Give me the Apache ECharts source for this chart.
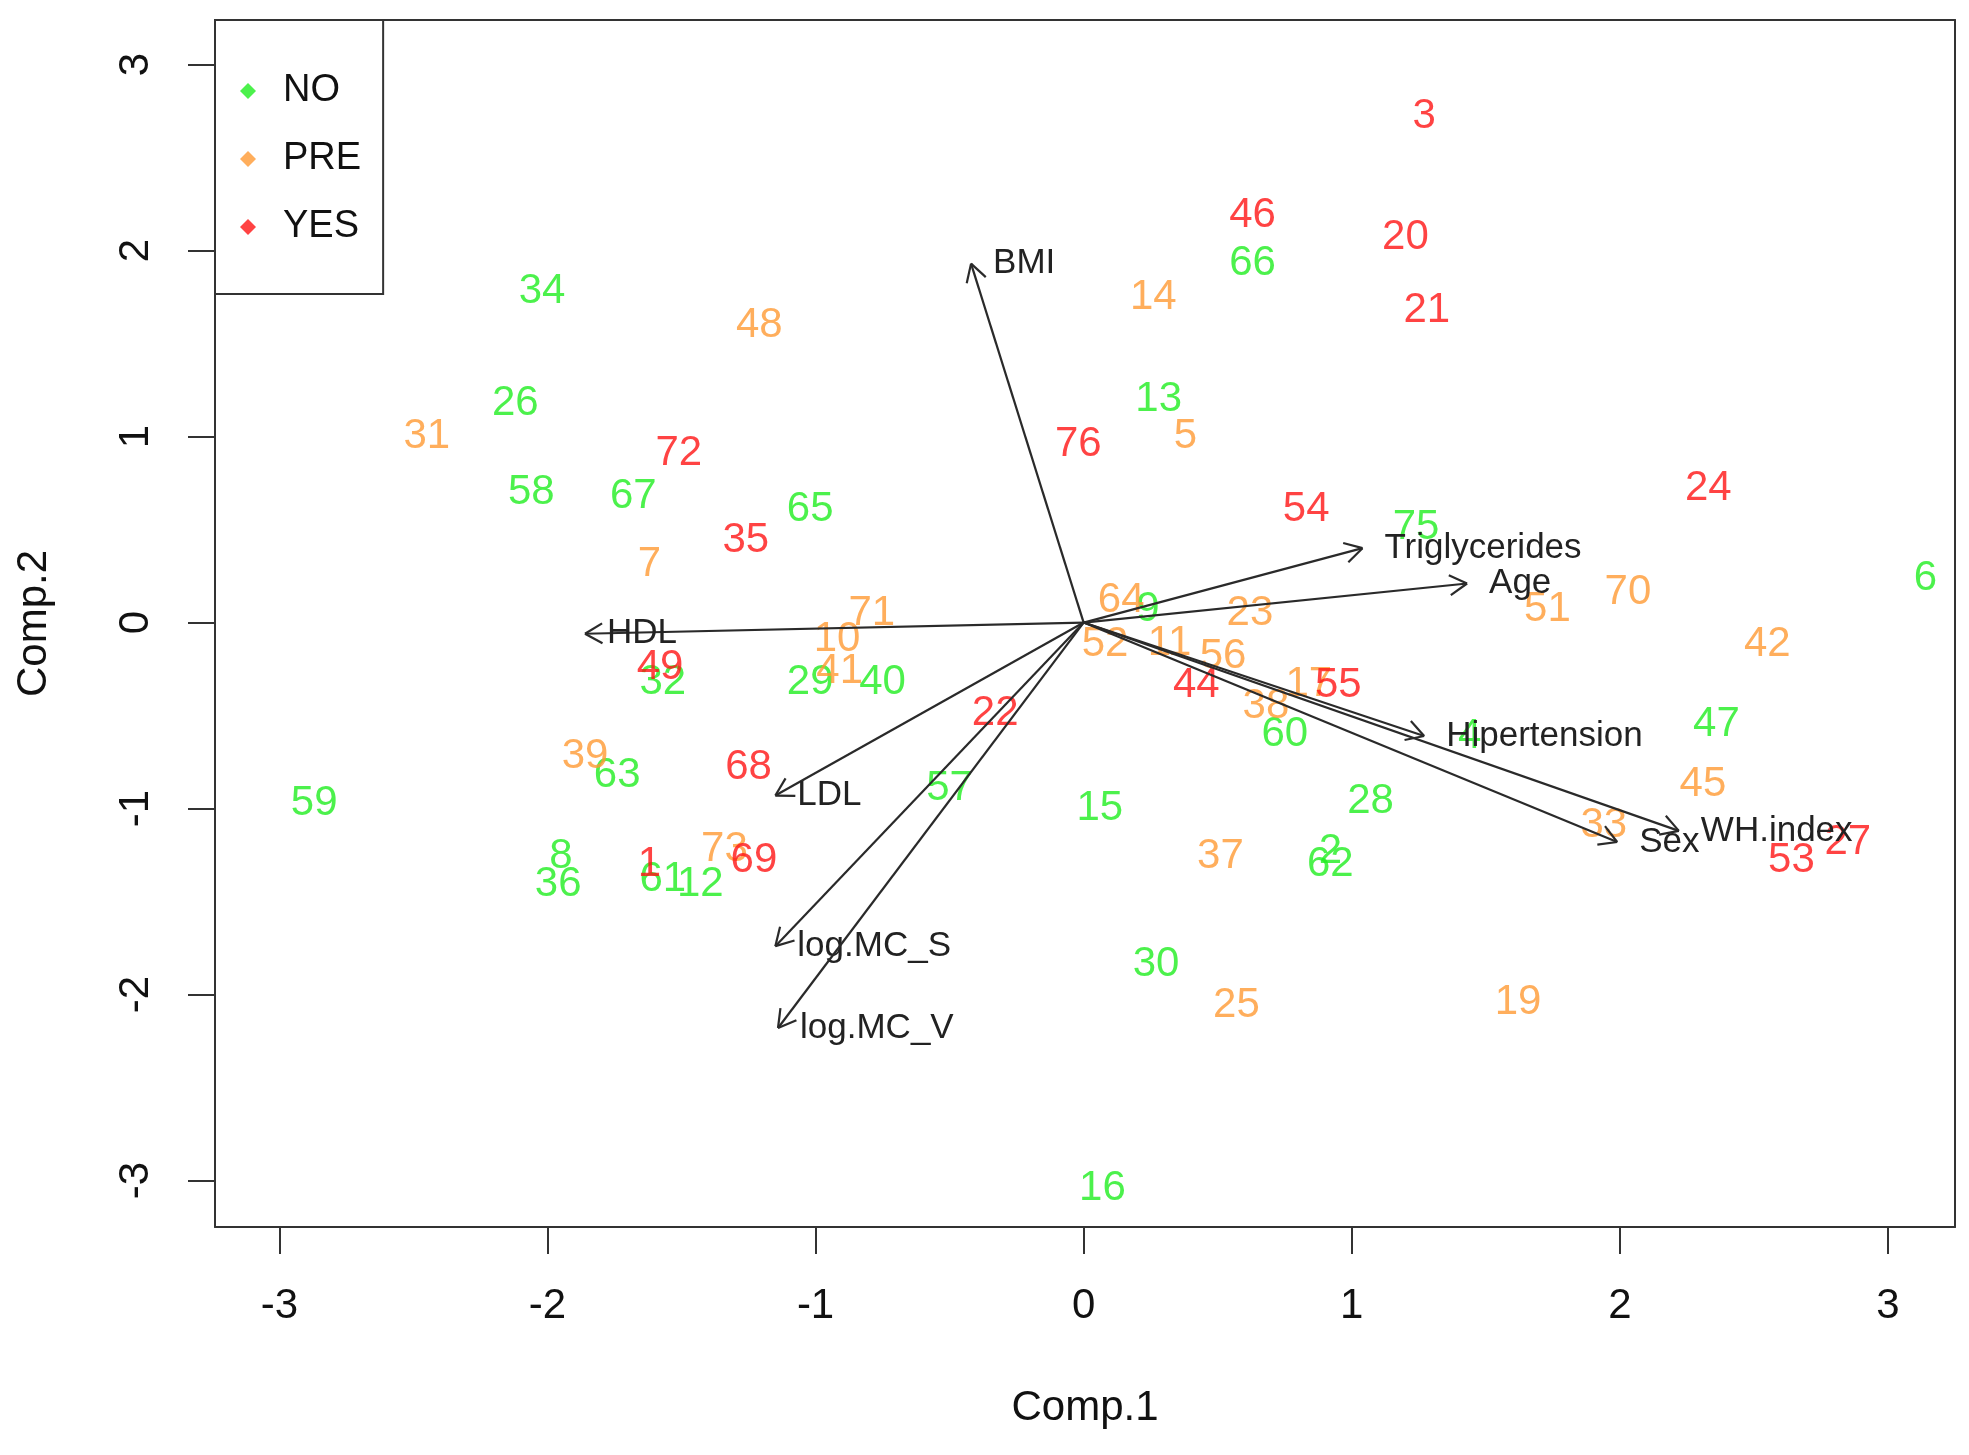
<!DOCTYPE html>
<html>
<head>
<meta charset="utf-8">
<script src="https://cdn.jsdelivr.net/npm/echarts@6/dist/echarts.min.js"></script>
<style>
  html, body { margin: 0; padding: 0; background: #fff; }
  #main { width: 1969px; height: 1455px; }
</style>
</head>
<body>
<div id="main"></div>
<script>
var chart = echarts.init(document.getElementById('main'));

// scores: [Comp.1, Comp.2, label]
var noPts = [
  [-2.02, 1.78, '34'], [-2.12, 1.18, '26'], [-2.06, 0.70, '58'], [-1.68, 0.68, '67'],
  [-1.02, 0.61, '65'], [-2.87, -0.97, '59'], [-1.74, -0.82, '63'], [-1.95, -1.26, '8'],
  [-1.96, -1.41, '36'], [-1.57, -1.38, '61'], [-1.43, -1.41, '12'], [-1.57, -0.32, '32'],
  [-1.02, -0.32, '29'], [-0.75, -0.32, '40'], [-0.50, -0.89, '57'], [0.06, -1.00, '15'],
  [0.28, 1.20, '13'], [0.63, 1.93, '66'], [0.24, 0.07, '9'], [0.75, -0.60, '60'],
  [1.07, -0.96, '28'], [0.92, -1.23, '2'], [0.92, -1.30, '62'], [0.27, -1.84, '30'],
  [0.07, -3.04, '16'], [1.24, 0.51, '75'], [1.44, -0.61, '4'], [2.36, -0.55, '47'],
  [3.14, 0.24, '6']
];
var prePts = [
  [-2.45, 1.00, '31'], [-1.21, 1.60, '48'], [-1.62, 0.31, '7'], [-1.86, -0.72, '39'],
  [-1.34, -1.22, '73'], [-0.92, -0.09, '10'], [-0.79, 0.05, '71'], [-0.91, -0.26, '41'],
  [0.26, 1.75, '14'], [0.38, 1.00, '5'], [0.14, 0.12, '64'], [0.08, -0.12, '52'],
  [0.32, -0.11, '11'], [0.52, -0.18, '56'], [0.62, 0.05, '23'], [0.68, -0.45, '38'],
  [0.84, -0.33, '17'], [0.51, -1.26, '37'], [0.57, -2.06, '25'], [1.73, 0.07, '51'],
  [2.03, 0.16, '70'], [2.55, -0.12, '42'], [2.31, -0.87, '45'], [1.94, -1.09, '33'],
  [1.62, -2.04, '19']
];
var yesPts = [
  [1.27, 2.72, '3'], [0.63, 2.19, '46'], [1.20, 2.07, '20'], [1.28, 1.68, '21'],
  [-1.51, 0.91, '72'], [-1.26, 0.44, '35'], [-0.02, 0.96, '76'], [0.83, 0.61, '54'],
  [2.33, 0.72, '24'], [-1.58, -0.24, '49'], [-0.33, -0.49, '22'], [-1.25, -0.78, '68'],
  [0.42, -0.34, '44'], [0.95, -0.34, '55'], [-1.62, -1.30, '1'], [-1.23, -1.28, '69'],
  [2.64, -1.28, '53'], [2.85, -1.18, '27']
];

// loadings (arrow tips)
var varNames = ['BMI', 'HDL', 'LDL', 'log.MC_S', 'log.MC_V', 'Triglycerides', 'Age', 'Hipertension', 'Sex', 'WH.index'];
var loadX = [-0.42, -1.86, -1.15, -1.15, -1.14, 1.04, 1.43, 1.27, 1.99, 2.22];
var loadY = [1.93, -0.06, -0.93, -1.74, -2.18, 0.40, 0.21, -0.61, -1.18, -1.12];

var ticks = [-3, -2, -1, 0, 1, 2, 3];
var groups = ['NO', 'PRE', 'YES'];
var groupColors = ['#1fee1f', '#ff9a33', '#ff1414'];

var font = 'Liberation Sans, Arial, sans-serif';

function scoreSeries(name, color, pts) {
    return {
        name: name,
        type: 'scatter',
        data: pts,
        symbol: 'diamond',
        symbolSize: 0,
        itemStyle: { color: color },
        label: {
            show: true,
            position: 'inside',
            formatter: function (p) { return p.value[2]; },
            color: color,
            fontSize: 42,
            fontFamily: font
        },
        emphasis: { disabled: true },
        z: 2
    };
}

var arrowData = [];
for (var i = 0; i < varNames.length; i++) {
    arrowData.push([loadX[i], loadY[i], varNames[i]]);
}

var axisCommon = {
    type: 'value',
    splitLine: { show: false },
    axisLine: { show: true, onZero: false, lineStyle: { color: '#333', width: 2 } },
    axisTick: { show: true, inside: false, length: 27, customValues: ticks, lineStyle: { color: '#333', width: 2 } },
    axisLabel: { customValues: ticks, color: '#111', fontSize: 42, fontFamily: font }
};

var option = {
    backgroundColor: '#fff',
    animation: false,
    grid: { left: 215, right: 14, top: 20, bottom: 228 },
    legend: {
        orient: 'vertical',
        left: 215,
        top: 20,
        data: groups,
        icon: 'diamond',
        itemWidth: 16,
        itemHeight: 16,
        itemGap: 30,
        padding: [52, 22, 48, 25],
        borderColor: '#333',
        borderWidth: 2,
        backgroundColor: '#fff',
        textStyle: { color: '#111', fontSize: 38, fontFamily: font, padding: [0, 0, 0, 22] },
        selectedMode: false
    },
    xAxis: [
        Object.assign({}, axisCommon, {
            min: -3.24, max: 3.25,
            name: 'Comp.1', nameLocation: 'middle', nameGap: 160,
            nameTextStyle: { color: '#111', fontSize: 42, fontFamily: font },
            axisLabel: Object.assign({}, axisCommon.axisLabel, { margin: 58 })
        }),
        {
            type: 'value', position: 'top', min: -3.24, max: 3.25,
            axisLine: { show: true, onZero: false, lineStyle: { color: '#333', width: 2 } },
            axisTick: { show: false }, axisLabel: { show: false }, splitLine: { show: false }
        }
    ],
    yAxis: [
        Object.assign({}, axisCommon, {
            min: -3.25, max: 3.24,
            name: 'Comp.2', nameLocation: 'middle', nameGap: 160,
            nameTextStyle: { color: '#111', fontSize: 42, fontFamily: font },
            axisLabel: Object.assign({}, axisCommon.axisLabel, { rotate: 90, margin: 58 })
        }),
        {
            type: 'value', position: 'right', min: -3.25, max: 3.24,
            axisLine: { show: true, onZero: false, lineStyle: { color: '#333', width: 2 } },
            axisTick: { show: false }, axisLabel: { show: false }, splitLine: { show: false }
        }
    ],
    series: [
        scoreSeries(groups[0], groupColors[0], noPts),
        scoreSeries(groups[1], groupColors[1], prePts),
        scoreSeries(groups[2], groupColors[2], yesPts),
        {
            type: 'custom',
            data: arrowData,
            clip: false,
            silent: true,
            z: 3,
            renderItem: function (params, api) {
                var o = api.coord([0, 0]);
                var p = api.coord([api.value(0), api.value(1)]);
                var a = Math.atan2(p[1] - o[1], p[0] - o[0]);
                var len = 20, spread = Math.PI / 6;
                var h1 = [p[0] - len * Math.cos(a - spread), p[1] - len * Math.sin(a - spread)];
                var h2 = [p[0] - len * Math.cos(a + spread), p[1] - len * Math.sin(a + spread)];
                var stroke = { stroke: '#2a2a2a', lineWidth: 2.2 };
                return {
                    type: 'group',
                    children: [
                        { type: 'line', shape: { x1: o[0], y1: o[1], x2: p[0], y2: p[1] }, style: stroke },
                        { type: 'line', shape: { x1: p[0], y1: p[1], x2: h1[0], y2: h1[1] }, style: stroke },
                        { type: 'line', shape: { x1: p[0], y1: p[1], x2: h2[0], y2: h2[1] }, style: stroke },
                        {
                            type: 'text',
                            x: p[0] + 22, y: p[1],
                            style: {
                                text: api.value(2),
                                fill: '#222',
                                fontSize: 35,
                                fontFamily: font,
                                align: 'left',
                                verticalAlign: 'middle'
                            }
                        }
                    ]
                };
            }
        }
    ]
};

chart.setOption(option);
</script>
</body>
</html>
